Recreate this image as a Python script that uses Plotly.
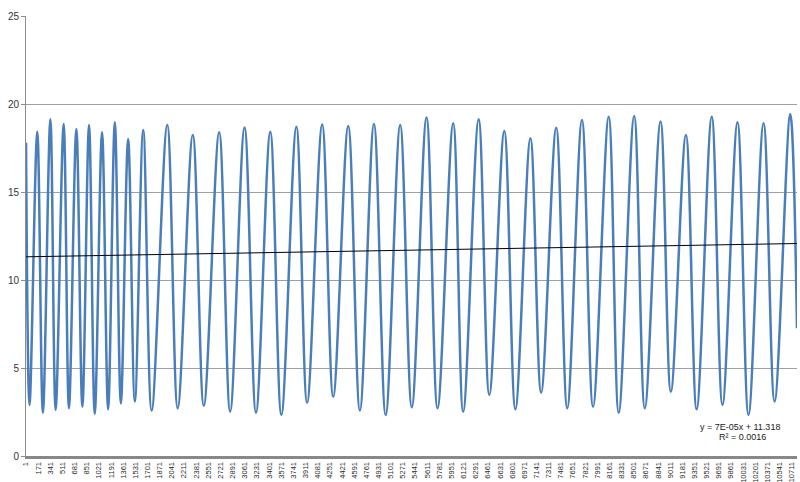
import plotly.graph_objects as go

extreme_index = [1, 50, 158, 237, 341, 415, 527, 601, 705, 789, 882, 962, 1064, 1149,
                 1243, 1327, 1429, 1523, 1640, 1758, 1976, 2122, 2333, 2487, 2702, 2856,
                 3057, 3217, 3417, 3572, 3782, 3932, 4143, 4297, 4507, 4670, 4867, 5031,
                 5234, 5396, 5602, 5756, 5975, 6115, 6331, 6480, 6690, 6845, 7055, 7205,
                 7416, 7570, 7776, 7931, 8150, 8290, 8506, 8655, 8875, 9019, 9230, 9380,
                 9591, 9741, 9951, 10105, 10316, 10470, 10689, 10783]
# Value at each turning point
extreme_value = [17.8, 2.9, 18.43, 2.46, 19.13, 2.61, 18.86, 2.71, 18.58, 2.80, 18.81,
                 2.39, 18.39, 2.65, 18.96, 2.99, 18.01, 3.09, 18.52, 2.58, 18.81, 2.71,
                 18.24, 2.85, 18.39, 2.52, 18.67, 2.46, 18.43, 2.33, 18.71, 3.03, 18.84,
                 3.37, 18.75, 2.58, 18.86, 2.33, 18.8, 2.77, 19.24, 2.71, 18.9, 2.52,
                 19.13, 3.47, 18.47, 2.65, 18.05, 3.6, 18.65, 2.71, 19.09, 2.8, 19.28,
                 2.46, 19.32, 2.71, 19.0, 3.65, 18.24, 2.65, 19.28, 2.9, 18.96, 2.33,
                 18.9, 3.09, 19.43, 7.26]

# Linear trendline shown on the chart
trend_slope = 7e-05
trend_intercept = 11.318
trend_label = "y = 7E-05x + 11.318"
r2_label = "R² = 0.0016"

x_tick_values = [1, 171, 341, 511, 681, 851, 1021, 1191, 1361, 1531, 1701, 1871, 2041,
                 2211, 2381, 2551, 2721, 2891, 3061, 3231, 3401, 3571, 3741, 3911, 4081,
                 4251, 4421, 4591, 4761, 4931, 5101, 5271, 5441, 5611, 5781, 5951, 6121,
                 6291, 6461, 6631, 6801, 6971, 7141, 7311, 7481, 7651, 7821, 7991, 8161,
                 8331, 8501, 8671, 8841, 9011, 9181, 9351, 9521, 9691, 9861, 10031, 10201,
                 10371, 10541, 10711]
y_tick_values = [0, 5, 10, 15, 20, 25]

n_points = extreme_index[-1]
trend_x = [extreme_index[0], n_points]
trend_y = [trend_slope * v + trend_intercept for v in trend_x]

FONT = "Liberation Sans, Arial, sans-serif"

fig = go.Figure()
fig.add_trace(go.Scatter(
    x=extreme_index, y=extreme_value, mode="lines",
    line=dict(color="#4A7EBB", width=2.5, shape="spline", smoothing=1.0),
    hoverinfo="skip"))
fig.add_trace(go.Scatter(
    x=trend_x, y=trend_y, mode="lines",
    line=dict(color="#000000", width=1), hoverinfo="skip"))

fig.update_layout(
    width=800, height=482,
    margin=dict(l=26, r=3, t=16, b=26, autoexpand=False),
    paper_bgcolor="white", plot_bgcolor="white",
    showlegend=False,
    font=dict(family=FONT, color="#333333"),
    xaxis=dict(
        range=[0.5, n_points + 0.5],
        tickmode="array", tickvals=x_tick_values,
        ticktext=[str(v) for v in x_tick_values],
        tickangle=-90, tickfont=dict(size=7.5, color="#2a2a2a"),
        showgrid=False, zeroline=False,
        showline=True, linecolor="#888888", linewidth=3,
        ticks="", automargin=False),
    yaxis=dict(
        range=[0, 25], tickmode="array", tickvals=y_tick_values,
        tickfont=dict(size=10, color="#333333"),
        showgrid=True, gridcolor="#a0a0a0", gridwidth=1,
        zeroline=False, showline=True, linecolor="#8c8c8c", linewidth=1,
        ticks="outside", ticklen=4, tickcolor="#8c8c8c", automargin=False),
    annotations=[
        dict(text=trend_label, xref="paper", yref="paper", x=0.9267, y=0.0665,
             showarrow=False, xanchor="center", yanchor="middle",
             font=dict(size=9, color="#222222", family=FONT)),
        dict(text=r2_label, xref="paper", yref="paper", x=0.9293, y=0.0438,
             showarrow=False, xanchor="center", yanchor="middle",
             font=dict(size=9, color="#222222", family=FONT)),
    ],
)

fig.write_html(
    "out.html",
    config={"displayModeBar": False},
    post_script="document.body.style.margin='0';document.body.style.overflow='hidden';",
)
